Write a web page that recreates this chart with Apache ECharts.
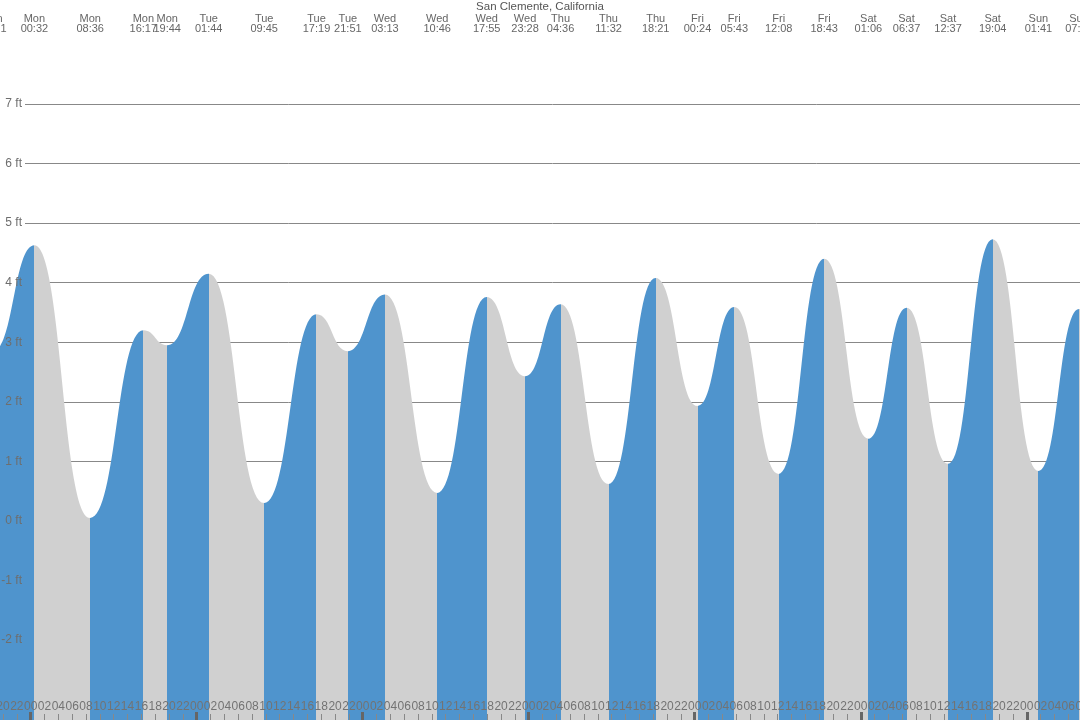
<!DOCTYPE html>
<html><head><meta charset="utf-8">
<script src="https://cdn.jsdelivr.net/npm/echarts@6/dist/echarts.min.js"></script>
<style>html,body{margin:0;padding:0;background:#fff}#c{width:1080px;height:720px}</style>
</head><body><div id="c"></div>
<script>
const chartTitle = 'San Clemente, California';
// Tide extremes: label (day + local time) and height in feet
// (first and last entries lie just outside the visible window; their values are estimates)
const eventLabels = ['Sun 15:26','Sun 18:31','Mon 00:32','Mon 08:36','Mon 16:17','Mon 19:44','Tue 01:44','Tue 09:45','Tue 17:19','Tue 21:51','Wed 03:13','Wed 10:46','Wed 17:55','Wed 23:28','Thu 04:36','Thu 11:32','Thu 18:21','Fri 00:24','Fri 05:43','Fri 12:08','Fri 18:43','Sat 01:06','Sat 06:37','Sat 12:37','Sat 19:04','Sun 01:41','Sun 07:33','Sun 13:50'];
const eventHeights = [3.05, 2.85, 4.63, 0.05, 3.2, 2.95, 4.15, 0.3, 3.47, 2.85, 3.8, 0.47, 3.76, 2.43, 3.64, 0.62, 4.08, 1.93, 3.59, 0.79, 4.4, 1.38, 3.58, 0.96, 4.73, 0.84, 3.56, 1.1];
const dayOffsets = {Sun:-1, Mon:0, Tue:1, Wed:2, Thu:3, Fri:4, Sat:5};
const yUnit = ' ft';
const risingColor = '#4f94cd';
const fallingColor = '#d0d0d0';

let prev = -Infinity;
const eventHours = eventLabels.map(s => {
  const [d, t] = s.split(' ');
  const [hh, mm] = t.split(':').map(Number);
  let h = dayOffsets[d] * 24 + hh + mm / 60;
  while (h < prev) h += 168;
  prev = h;
  return h;
});
const labelByHour = {};
eventHours.forEach((h, i) => { labelByHour[h.toFixed(4)] = eventLabels[i].replace(' ', '\n'); });

const n = eventHours.length;
const pieces = [];
pieces.push({lt: eventHours[0], color: eventHeights[1] > eventHeights[0] ? fallingColor : risingColor});
for (let i = 0; i < n - 1; i++) {
  pieces.push({gte: eventHours[i], lt: eventHours[i + 1], color: eventHeights[i + 1] > eventHeights[i] ? risingColor : fallingColor});
}
pieces.push({gte: eventHours[n - 1], color: eventHeights[n - 1] > eventHeights[n - 2] ? fallingColor : risingColor});

const xMin = -6, xMax = 152, yMin = -4, yMax = 7;
const midnights = [];
for (let h = 0; h <= xMax; h += 24) midnights.push(h);

const font = 'Liberation Sans';
const gX = {left: -10.8, right: -2.1, outerBoundsMode: 'none'};
const chart = echarts.init(document.getElementById('c'), null, {renderer: 'canvas'});
chart.setOption({
  animation: false,
  backgroundColor: '#ffffff',
  textStyle: {fontFamily: font},
  title: {text: chartTitle, left: 'center', top: 1, padding: 0, textStyle: {fontSize: 11.5, fontWeight: 'normal', color: '#555', fontFamily: font}},
  grid: [
    Object.assign({top: 104, bottom: -39.2}, gX),
    {left: 25, right: 0, top: 104, bottom: -39.2, outerBoundsMode: 'none'},
    Object.assign({top: 104, bottom: 0}, gX),
    Object.assign({top: 34, bottom: 0}, gX)
  ],
  xAxis: [
    {type: 'value', gridIndex: 0, min: xMin, max: xMax, show: false},
    {type: 'value', gridIndex: 2, position: 'bottom', min: xMin, max: xMax, interval: 2, z: 10,
      axisLine: {show: false}, splitLine: {show: false},
      axisTick: {show: true, inside: true, length: 6, lineStyle: {color: '#888', width: 1}},
      axisLabel: {inside: true, margin: 7, fontSize: 12, color: '#737373', fontFamily: font,
        formatter: v => String(((Math.round(v) % 24) + 24) % 24).padStart(2, '0')}},
    {type: 'value', gridIndex: 2, position: 'bottom', min: xMin, max: xMax, z: 11,
      axisLine: {show: false}, splitLine: {show: false}, axisLabel: {show: false},
      axisTick: {show: true, inside: true, length: 8, customValues: midnights, lineStyle: {color: '#666', width: 3}}},
    {type: 'value', gridIndex: 3, position: 'top', min: xMin, max: xMax, z: 10,
      axisLine: {show: false}, splitLine: {show: false}, axisTick: {show: false},
      axisLabel: {show: true, margin: 0, customValues: eventHours, fontSize: 11, lineHeight: 10, color: '#666', fontFamily: font,
        formatter: v => labelByHour[Number(v).toFixed(4)] || ''}},
    {type: 'value', gridIndex: 1, min: 0, max: 1, show: false}
  ],
  yAxis: [
    {type: 'value', gridIndex: 0, min: yMin, max: yMax, show: false},
    {type: 'value', gridIndex: 1, position: 'left', min: yMin, max: yMax, interval: 1, z: 0,
      axisLine: {show: false}, axisTick: {show: false}, axisLabel: {show: false},
      splitLine: {show: true, lineStyle: {color: '#888', width: 1}}},
    {type: 'value', gridIndex: 1, position: 'left', min: yMin, max: yMax, interval: 1, z: 10,
      axisLine: {show: false}, axisTick: {show: false}, splitLine: {show: false},
      axisLabel: {margin: 3, fontSize: 12, color: '#6e6e6e', fontFamily: font,
        formatter: v => v >= -2 ? v + yUnit : ''}},
    {type: 'value', gridIndex: 2, min: 0, max: 1, show: false},
    {type: 'value', gridIndex: 3, min: 0, max: 1, show: false}
  ],
  visualMap: {type: 'piecewise', show: false, dimension: 0, seriesIndex: 0, pieces: pieces, outOfRange: {color: fallingColor}},
  series: [{
    type: 'line', xAxisIndex: 0, yAxisIndex: 0, z: 2, silent: true,
    data: eventHours.map((h, i) => [h, eventHeights[i]]),
    smooth: 0.5, smoothMonotone: 'x', symbol: 'none', showSymbol: false,
    lineStyle: {width: 0, opacity: 0},
    areaStyle: {opacity: 1, origin: 'start'}
  }]
});
</script></body></html>
